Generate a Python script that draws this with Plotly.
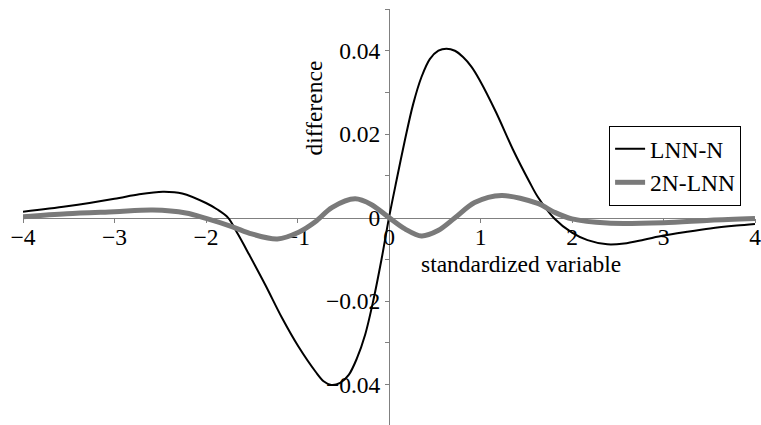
import plotly.graph_objects as go

# ---- data ----
lnn_n_x = [-4.0, -3.52, -3.0, -2.73, -2.47, -2.26, -2.0, -1.88, -1.76, -1.65, -1.53, -1.35,
           -1.17, -0.99, -0.8, -0.715, -0.63, -0.534, -0.44, -0.352, -0.26, -0.17, -0.08,
           0.0, 0.083, 0.174, 0.264, 0.355, 0.446, 0.54, 0.627, 0.72, 0.809, 0.9, 0.99,
           1.171, 1.353, 1.534, 1.625, 1.807, 2.0, 2.17, 2.386, 2.57, 2.785, 3.0, 3.257,
           3.51, 3.8, 4.0]
lnn_n_y = [0.0014, 0.0027, 0.0045, 0.0056, 0.0062, 0.0058, 0.0035, 0.0020, 0.0, -0.0040,
           -0.0088, -0.0162, -0.0240, -0.0309, -0.0370, -0.0392, -0.0401, -0.0396, -0.0377,
           -0.0338, -0.0280, -0.0197, -0.0098, 0.0, 0.0090, 0.0186, 0.0272, 0.0337, 0.0380,
           0.0400, 0.0405, 0.0400, 0.0385, 0.0362, 0.0330, 0.0252, 0.0164, 0.0086, 0.0050,
           -0.0002, -0.0036, -0.0054, -0.0064, -0.0062, -0.0053, -0.0043, -0.0034, -0.0026,
           -0.0019, -0.0015]

n2_lnn_x = [-4.0, -3.52, -3.0, -2.58, -2.22, -2.0, -1.71, -1.5, -1.22, -0.987, -0.805,
            -0.625, -0.37, -0.19, 0.0, 0.174, 0.355, 0.536, 0.718, 0.936, 1.23, 1.625,
            1.807, 2.0, 2.386, 3.0, 3.51, 4.0]
n2_lnn_y = [0.0002, 0.0009, 0.0014, 0.0018, 0.0011, -0.0002, -0.0022, -0.0039, -0.0051,
            -0.0035, -0.0010, 0.0024, 0.0045, 0.0031, 0.0, -0.0027, -0.0044, -0.0031,
            -0.0001, 0.0036, 0.0053, 0.0034, 0.0013, -0.0003, -0.0013, -0.0012, -0.0006,
            -0.0002]

x_ticks = [-4, -3, -2, -1, 0, 1, 2, 3, 4]
x_tick_labels = ["\u22124", "\u22123", "\u22122", "\u22121", "0", "1", "2", "3", "4"]
y_ticks = [-0.04, -0.03, -0.02, -0.01, 0.0, 0.01, 0.02, 0.03, 0.04, 0.05]
y_tick_labels = ["\u22120.04", "", "\u22120.02", "", "0", "", "0.02", "", "0.04", ""]

FONT = "Liberation Serif"
FS = 23.5
AXIS_COLOR = "#808080"

fig = go.Figure()
fig.add_trace(go.Scatter(x=lnn_n_x, y=lnn_n_y, mode="lines", name="LNN-N",
                         line=dict(color="black", width=2, shape="spline", smoothing=0.9)))
fig.add_trace(go.Scatter(x=n2_lnn_x, y=n2_lnn_y, mode="lines", name="2N-LNN",
                         line=dict(color="#7a7a7a", width=5, shape="spline", smoothing=0.9)))

y_lo, y_hi = -0.0497, 0.05
fig.update_layout(
    width=761, height=425,
    margin=dict(l=23, r=3, t=9, b=0),
    paper_bgcolor="white", plot_bgcolor="white",
    font=dict(family=FONT, size=FS, color="black"),
    showlegend=True,
    legend=dict(x=0.981, xanchor="right", y=0.7188, yanchor="top",
                bordercolor="black", borderwidth=1, bgcolor="white",
                font=dict(family=FONT, size=FS, color="black"), itemwidth=30,
                tracegroupgap=0),
    xaxis=dict(range=[-4, 4], anchor="free", position=(0 - y_lo) / (y_hi - y_lo),
               showline=True, linecolor=AXIS_COLOR, linewidth=1,
               ticks="outside", ticklen=4, tickcolor=AXIS_COLOR,
               tickvals=x_ticks, ticktext=x_tick_labels,
               tickfont=dict(family=FONT, size=FS, color="black"),
               ticklabeloverflow="allow", ticklabelstandoff=-6,
               showgrid=False, zeroline=False, layer="below traces"),
    yaxis=dict(range=[y_lo, y_hi], anchor="free", position=0.5,
               showline=True, linecolor=AXIS_COLOR, linewidth=1,
               ticks="outside", ticklen=4, tickcolor=AXIS_COLOR,
               tickvals=y_ticks, ticktext=y_tick_labels,
               tickfont=dict(family=FONT, size=FS, color="black"),
               ticklabeloverflow="allow",
               showgrid=False, zeroline=False, layer="below traces"),
    annotations=[
        dict(text="difference", x=-0.824, y=0.0263, xref="x", yref="y", textangle=-90,
             showarrow=False, xanchor="center", yanchor="middle",
             font=dict(family=FONT, size=FS, color="black")),
        dict(text="standardized variable", x=1.443, y=-0.0111, xref="x", yref="y",
             showarrow=False, xanchor="center", yanchor="middle",
             font=dict(family=FONT, size=FS, color="black")),
    ],
)

fig.write_html("out.html")
